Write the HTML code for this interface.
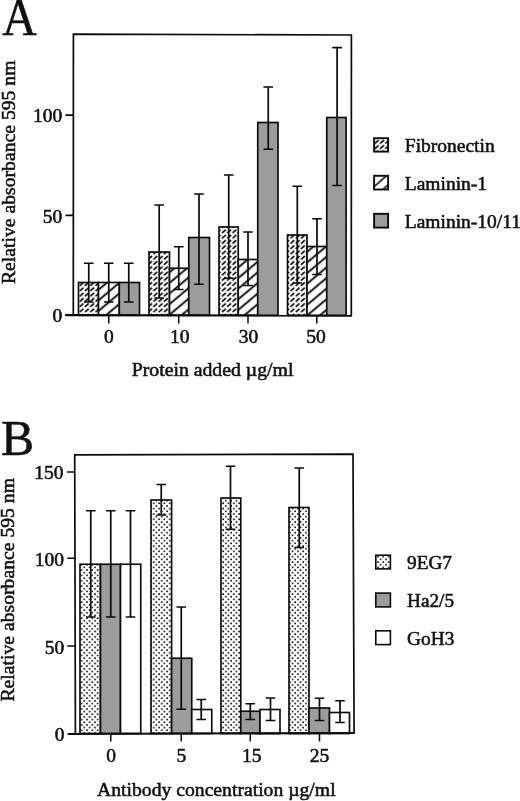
<!DOCTYPE html>
<html lang="en"><head><meta charset="utf-8"><title>Figure</title>
<style>html,body{margin:0;padding:0;background:#fff}svg{display:block}text{font-family:"Liberation Serif","DejaVu Serif",serif;fill:#111;stroke:#111;stroke-width:.55px}</style></head><body>
<svg width="520" height="801" viewBox="0 0 520 801">
<rect width="520" height="801" fill="#fff"/>
<defs>
<pattern id="pF" patternUnits="userSpaceOnUse" x="215.965" y="307.865" width="5.27" height="5.27"><path d="M0.68 4.33L4.58 0.93" stroke="#000" stroke-width="1.6" fill="none"/></pattern>
<pattern id="pL" patternUnits="userSpaceOnUse" x="0" y="-4.055" width="10" height="8.11" patternTransform="translate(307 273.2) rotate(-40.1)"><path d="M-1 4.055H11" stroke="#000" stroke-width="1.8" fill="none"/></pattern>
<pattern id="pL2" patternUnits="userSpaceOnUse" x="0" y="-3.975" width="10" height="7.95" patternTransform="translate(380.1 181.4) rotate(-41.4)"><path d="M-1 3.975H11" stroke="#0a0a0a" stroke-width="1.6" fill="none"/></pattern>
<pattern id="pD" patternUnits="userSpaceOnUse" x="86.0" y="729.3" width="5.34" height="5.34"><rect x="0.2" y="0.2" width="1.6" height="1.6" fill="#0a0a0a"/><rect x="2.87" y="2.87" width="1.6" height="1.6" fill="#0a0a0a"/></pattern>
</defs>
<g id="panelA">
<path d="M73.3 315.1L73.4 34.2L351.4 35L351.3 315.6" fill="none" stroke="#0a0a0a" stroke-width="1.7"/>
<rect x="78.5" y="282.5" width="20.0" height="32.8" fill="#fff"/><rect x="78.5" y="282.5" width="20.0" height="32.8" fill="url(#pF)" stroke="#0a0a0a" stroke-width="1.65"/>
<rect x="98.5" y="282.5" width="20.8" height="32.8" fill="#fff"/><rect x="98.5" y="282.5" width="20.8" height="32.8" fill="url(#pL)" stroke="#0a0a0a" stroke-width="1.65"/>
<rect x="119.3" y="282.5" width="20.2" height="32.8" fill="#9c9c9c" stroke="#0a0a0a" stroke-width="1.65"/>
<rect x="149" y="252" width="20.5" height="63.3" fill="#fff"/><rect x="149" y="252" width="20.5" height="63.3" fill="url(#pF)" stroke="#0a0a0a" stroke-width="1.65"/>
<rect x="169.5" y="268.25" width="19.25" height="47.05" fill="#fff"/><rect x="169.5" y="268.25" width="19.25" height="47.05" fill="url(#pL)" stroke="#0a0a0a" stroke-width="1.65"/>
<rect x="188.75" y="237.5" width="20.75" height="77.8" fill="#9c9c9c" stroke="#0a0a0a" stroke-width="1.65"/>
<rect x="219" y="227" width="19.25" height="88.3" fill="#fff"/><rect x="219" y="227" width="19.25" height="88.3" fill="url(#pF)" stroke="#0a0a0a" stroke-width="1.65"/>
<rect x="238.25" y="259.5" width="19.5" height="55.8" fill="#fff"/><rect x="238.25" y="259.5" width="19.5" height="55.8" fill="url(#pL)" stroke="#0a0a0a" stroke-width="1.65"/>
<rect x="257.75" y="122.5" width="20.25" height="192.8" fill="#9c9c9c" stroke="#0a0a0a" stroke-width="1.65"/>
<rect x="287.5" y="235" width="19.5" height="80.3" fill="#fff"/><rect x="287.5" y="235" width="19.5" height="80.3" fill="url(#pF)" stroke="#0a0a0a" stroke-width="1.65"/>
<rect x="307" y="246.5" width="19.75" height="68.8" fill="#fff"/><rect x="307" y="246.5" width="19.75" height="68.8" fill="url(#pL)" stroke="#0a0a0a" stroke-width="1.65"/>
<rect x="326.75" y="117.5" width="19.35" height="197.8" fill="#9c9c9c" stroke="#0a0a0a" stroke-width="1.65"/>
<path d="M88.75 263.25V302M83.95 263.25H93.55M83.95 302H93.55" stroke="#0a0a0a" stroke-width="1.7" fill="none"/>
<path d="M108.75 263.25V302M103.95 263.25H113.55M103.95 302H113.55" stroke="#0a0a0a" stroke-width="1.7" fill="none"/>
<path d="M128.75 263.25V302M123.95 263.25H133.55M123.95 302H133.55" stroke="#0a0a0a" stroke-width="1.7" fill="none"/>
<path d="M159.2 205V298M154.4 205H164.0M154.4 298H164.0" stroke="#0a0a0a" stroke-width="1.7" fill="none"/>
<path d="M178.75 246.75V289.5M173.95 246.75H183.55M173.95 289.5H183.55" stroke="#0a0a0a" stroke-width="1.7" fill="none"/>
<path d="M199 194V284.25M194.2 194H203.8M194.2 284.25H203.8" stroke="#0a0a0a" stroke-width="1.7" fill="none"/>
<path d="M228.75 175V278.25M223.95 175H233.55M223.95 278.25H233.55" stroke="#0a0a0a" stroke-width="1.7" fill="none"/>
<path d="M248 232V285.5M243.2 232H252.8M243.2 285.5H252.8" stroke="#0a0a0a" stroke-width="1.7" fill="none"/>
<path d="M268.25 87V149.25M263.45 87H273.05M263.45 149.25H273.05" stroke="#0a0a0a" stroke-width="1.7" fill="none"/>
<path d="M297.3 186.25V283M292.5 186.25H302.1M292.5 283H302.1" stroke="#0a0a0a" stroke-width="1.7" fill="none"/>
<path d="M317 218.75V274.5M312.2 218.75H321.8M312.2 274.5H321.8" stroke="#0a0a0a" stroke-width="1.7" fill="none"/>
<path d="M337.1 47.7V185.5M332.3 47.7H341.9M332.3 185.5H341.9" stroke="#0a0a0a" stroke-width="1.7" fill="none"/>
<path d="M65.1 315.1L352.1 315.6" stroke="#0a0a0a" stroke-width="2.05" fill="none"/>
<path d="M65.5 115.1H73.4M65.5 215.4H73.4" stroke="#0a0a0a" stroke-width="1.6" fill="none"/>
<path d="M108.75 315.3V323.6M178.75 315.3V323.6M248 315.3V323.6M316.8 315.3V323.6" stroke="#0a0a0a" stroke-width="1.5" fill="none"/>
<text x="62.2" y="122.1" font-size="19.5" text-anchor="end">100</text>
<text x="62.2" y="223.0" font-size="19.5" text-anchor="end">50</text>
<text x="62.2" y="322.3" font-size="19.5" text-anchor="end">0</text>
<text x="108.75" y="343" font-size="19.5" text-anchor="middle">0</text>
<text x="179.75" y="343" font-size="19.5" text-anchor="middle">10</text>
<text x="248.5" y="343" font-size="19.5" text-anchor="middle">30</text>
<text x="316" y="343" font-size="19.5" text-anchor="middle">50</text>
<text x="131.7" y="375.5" font-size="19.5" textLength="161.8" lengthAdjust="spacingAndGlyphs">Protein added µg/ml</text>
<text transform="translate(14.6 284) rotate(-90)" font-size="19.5" textLength="223.5" lengthAdjust="spacingAndGlyphs">Relative absorbance 595 nm</text>
<text transform="translate(2.3 35.3) scale(0.915 1)" font-size="52.3">A</text>
<rect x="374.1" y="138.2" width="14.0" height="13.4" fill="url(#pF)" stroke="#0a0a0a" stroke-width="1.9"/>
<text x="404.8" y="152" font-size="19.5">Fibronectin</text>
<rect x="374.1" y="175.8" width="14.0" height="13.7" fill="url(#pL2)" stroke="#0a0a0a" stroke-width="1.9"/>
<text x="404.8" y="190" font-size="19.5">Laminin-1</text>
<rect x="374.1" y="213.8" width="14.0" height="13.8" fill="#9c9c9c" stroke="#0a0a0a" stroke-width="1.9"/>
<text x="404.8" y="228.3" font-size="19.5">Laminin-10/11</text>
</g>
<g id="panelB">
<path d="M75.4 734L74.7 454.8L353 454.1L354.1 733" fill="none" stroke="#0a0a0a" stroke-width="1.7"/>
<rect x="80" y="564.25" width="20.5" height="169.25" fill="#fff"/><rect x="80" y="564.25" width="20.5" height="169.25" fill="url(#pD)" stroke="#0a0a0a" stroke-width="1.65"/>
<rect x="100.5" y="564.25" width="20.0" height="169.25" fill="#9c9c9c" stroke="#0a0a0a" stroke-width="1.65"/>
<rect x="120.5" y="564.25" width="20.25" height="169.25" fill="#fff" stroke="#0a0a0a" stroke-width="1.65"/>
<rect x="151" y="500" width="20.6" height="233.5" fill="#fff"/><rect x="151" y="500" width="20.6" height="233.5" fill="url(#pD)" stroke="#0a0a0a" stroke-width="1.65"/>
<rect x="171.6" y="658.25" width="20.15" height="75.25" fill="#9c9c9c" stroke="#0a0a0a" stroke-width="1.65"/>
<rect x="191.75" y="709.5" width="20.0" height="24.0" fill="#fff" stroke="#0a0a0a" stroke-width="1.65"/>
<rect x="221" y="498" width="19.75" height="235.5" fill="#fff"/><rect x="221" y="498" width="19.75" height="235.5" fill="url(#pD)" stroke="#0a0a0a" stroke-width="1.65"/>
<rect x="240.75" y="711.25" width="19.25" height="22.25" fill="#9c9c9c" stroke="#0a0a0a" stroke-width="1.65"/>
<rect x="260" y="709.5" width="20" height="24.0" fill="#fff" stroke="#0a0a0a" stroke-width="1.65"/>
<rect x="289" y="507.5" width="20" height="226.0" fill="#fff"/><rect x="289" y="507.5" width="20" height="226.0" fill="url(#pD)" stroke="#0a0a0a" stroke-width="1.65"/>
<rect x="309" y="708" width="20.5" height="25.5" fill="#9c9c9c" stroke="#0a0a0a" stroke-width="1.65"/>
<rect x="329.5" y="712.5" width="20.0" height="21.0" fill="#fff" stroke="#0a0a0a" stroke-width="1.65"/>
<path d="M90.75 510.75V617M85.95 510.75H95.55M85.95 617H95.55" stroke="#0a0a0a" stroke-width="1.7" fill="none"/>
<path d="M110.75 510.75V617M105.95 510.75H115.55M105.95 617H115.55" stroke="#0a0a0a" stroke-width="1.7" fill="none"/>
<path d="M130.5 510.75V617M125.7 510.75H135.3M125.7 617H135.3" stroke="#0a0a0a" stroke-width="1.7" fill="none"/>
<path d="M161.25 484.5V515M156.45 484.5H166.05M156.45 515H166.05" stroke="#0a0a0a" stroke-width="1.7" fill="none"/>
<path d="M181.25 607V709.25M176.45 607H186.05M176.45 709.25H186.05" stroke="#0a0a0a" stroke-width="1.7" fill="none"/>
<path d="M201.25 699.5V719.5M196.45 699.5H206.05M196.45 719.5H206.05" stroke="#0a0a0a" stroke-width="1.7" fill="none"/>
<path d="M230.5 466.25V529.25M225.7 466.25H235.3M225.7 529.25H235.3" stroke="#0a0a0a" stroke-width="1.7" fill="none"/>
<path d="M250.3 703.75V719.5M245.5 703.75H255.1M245.5 719.5H255.1" stroke="#0a0a0a" stroke-width="1.7" fill="none"/>
<path d="M270.5 698V720.5M265.7 698H275.3M265.7 720.5H275.3" stroke="#0a0a0a" stroke-width="1.7" fill="none"/>
<path d="M299.25 468V547.5M294.45 468H304.05M294.45 547.5H304.05" stroke="#0a0a0a" stroke-width="1.7" fill="none"/>
<path d="M319.5 698.25V720.5M314.7 698.25H324.3M314.7 720.5H324.3" stroke="#0a0a0a" stroke-width="1.7" fill="none"/>
<path d="M340 700.75V722.5M335.2 700.75H344.8M335.2 722.5H344.8" stroke="#0a0a0a" stroke-width="1.7" fill="none"/>
<path d="M67.6 734L354.9 733" stroke="#0a0a0a" stroke-width="2.05" fill="none"/>
<path d="M67.1 472H74.8M67.3 558.2H75M67.3 646H75.2" stroke="#0a0a0a" stroke-width="1.6" fill="none"/>
<path d="M110.75 733.5V741.6M181.25 733.5V741.6M250.3 733.5V741.6M319.5 733.5V741.6" stroke="#0a0a0a" stroke-width="1.5" fill="none"/>
<text x="63.6" y="478.9" font-size="19.5" text-anchor="end">150</text>
<text x="64.0" y="565.8" font-size="19.5" text-anchor="end">100</text>
<text x="64.3" y="653.5" font-size="19.5" text-anchor="end">50</text>
<text x="64.5" y="741.1" font-size="19.5" text-anchor="end">0</text>
<text x="111" y="761.5" font-size="19.5" text-anchor="middle">0</text>
<text x="181.4" y="761.5" font-size="19.5" text-anchor="middle">5</text>
<text x="251.75" y="761.5" font-size="19.5" text-anchor="middle">15</text>
<text x="319.5" y="761.5" font-size="19.5" text-anchor="middle">25</text>
<text x="97.0" y="795.9" font-size="19.5" textLength="238.6" lengthAdjust="spacingAndGlyphs">Antibody concentration µg/ml</text>
<text transform="translate(14.0 701.5) rotate(-90)" font-size="19.5" textLength="223.5" lengthAdjust="spacingAndGlyphs">Relative absorbance 595 nm</text>
<text transform="translate(1.0 454.6) scale(0.97 1)" font-size="51.3">B</text>
<rect x="375.8" y="555.2" width="14.6" height="13.7" fill="url(#pD)" stroke="#0a0a0a" stroke-width="1.6"/>
<text x="407.1" y="569.4" font-size="19.5" textLength="44.9" lengthAdjust="spacingAndGlyphs">9EG7</text>
<rect x="375.8" y="593.1" width="14.6" height="13.8" fill="#9c9c9c" stroke="#0a0a0a" stroke-width="1.6"/>
<text x="407.1" y="607" font-size="19.5" textLength="46.95" lengthAdjust="spacingAndGlyphs">Ha2/5</text>
<rect x="375.8" y="630.8" width="14.6" height="13.8" fill="#fff" stroke="#0a0a0a" stroke-width="1.6"/>
<text x="407.1" y="644.9" font-size="19.5" textLength="47.3" lengthAdjust="spacingAndGlyphs">GoH3</text>
</g>
</svg></body></html>
